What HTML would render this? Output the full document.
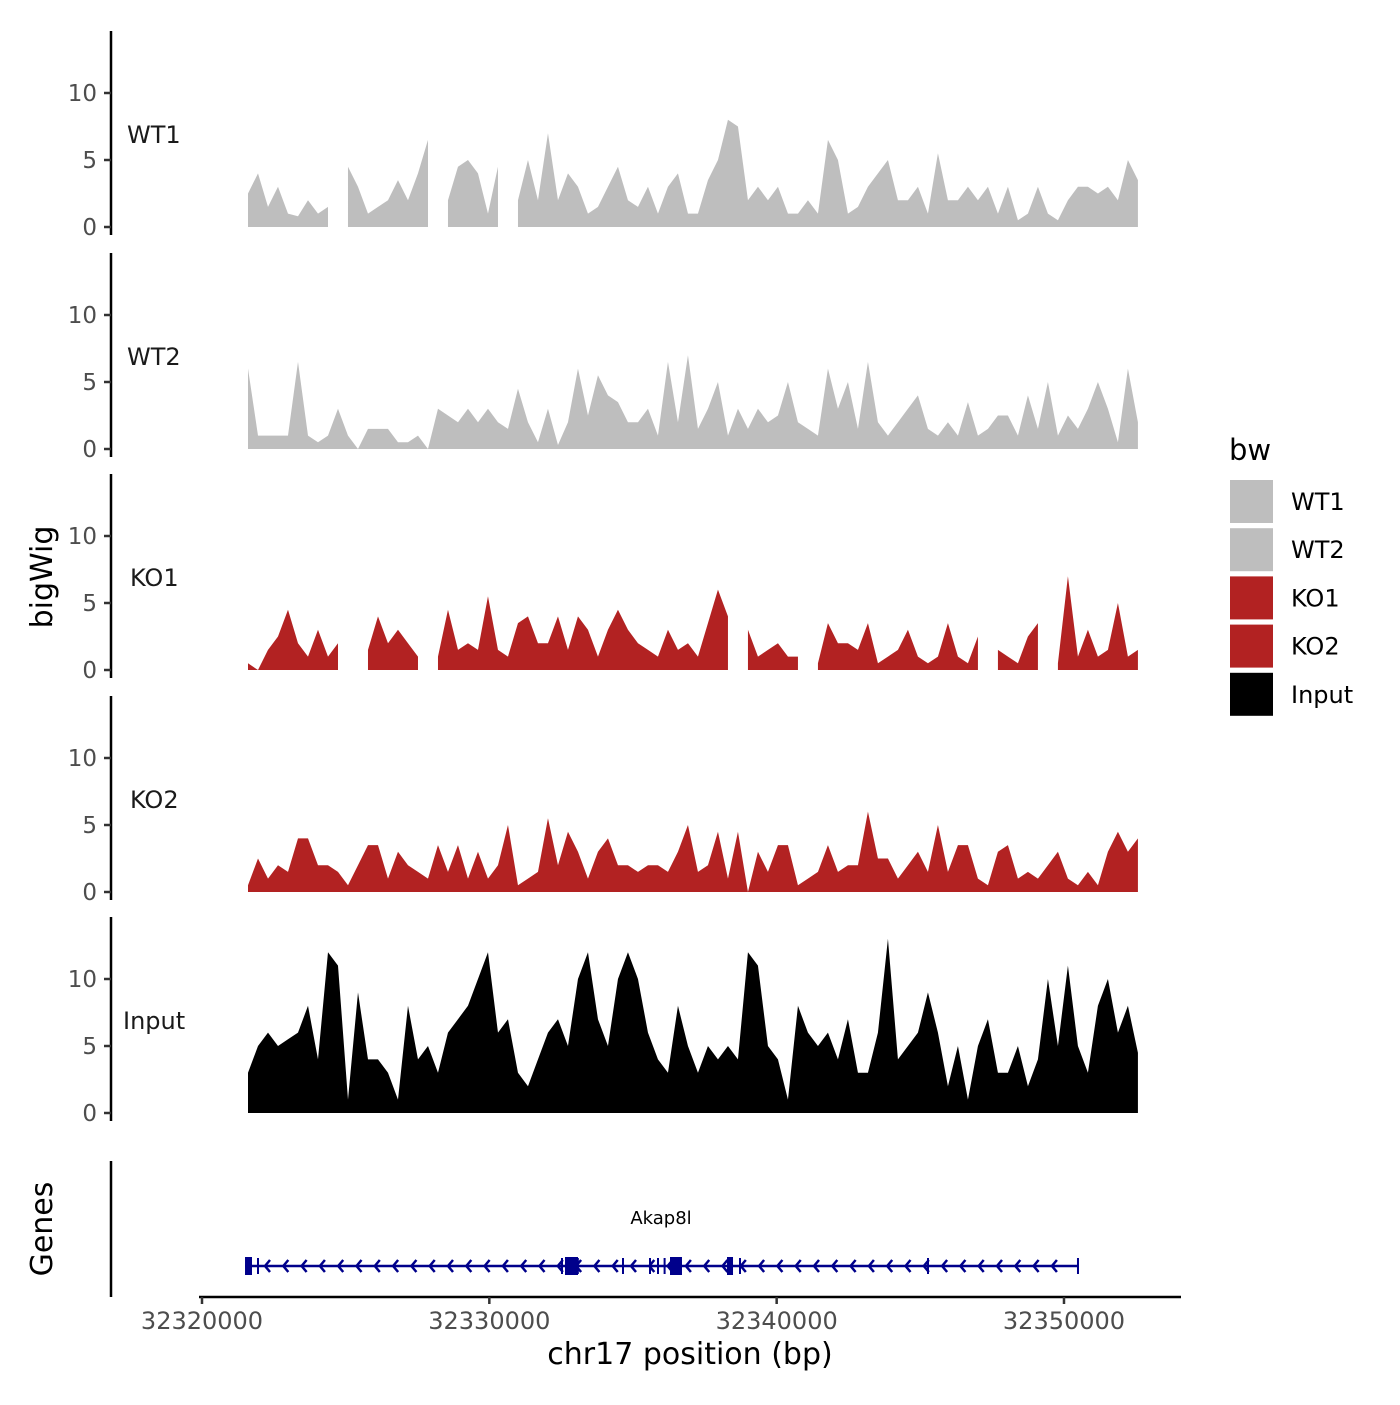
<!DOCTYPE html>
<html><head><meta charset="utf-8"><style>
html,body{margin:0;padding:0;background:#fff;}
svg text{font-family:"DejaVu Sans","Liberation Sans",sans-serif;}
</style></head><body>
<svg id="chart" width="1400" height="1400" viewBox="0 0 1400 1400" xmlns="http://www.w3.org/2000/svg"></svg>
<script>
// ---- data ----
const tracks = ["WT1","WT2","KO1","KO2","Input"];
const trackColors = ["#bebebe","#bebebe","#b22222","#b22222","#000000"];
const binStart = 32321601;
const binStep = 348;
const wt1 = [2.5,4,1.5,3,1,0.8,2,1,1.5,null,4.5,3,1,1.5,2,3.5,2,4,6.5,null,2,4.5,5,4,1,4.5,null,2,5,2,7,2,4,3,1,1.5,3,4.5,2,1.5,3,1,3,4,1,1,3.5,5,8,7.5,2,3,2,3,1,1,2,1,6.5,5,1,1.5,3,4,5,2,2,3,1,5.5,2,2,3,2,3,1,3,0.5,1,3,1,0.5,2,3,3,2.5,3,2,5,3.5];
const wt2 = [6,1,1,1,1,6.5,1,0.5,1,3,1,0,1.5,1.5,1.5,0.5,0.5,1,0,3,2.5,2,3,2,3,2,1.5,4.5,2,0.5,3,0.3,2,6,2.5,5.5,4,3.5,2,2,3,1,6.5,2,7,1.5,3,5,1,3,1.5,3,2,2.5,5,2,1.5,1,6,3,5,1.5,6.5,2,1,2,3,4,1.5,1,2,1,3.5,1,1.5,2.5,2.5,1,4,1.5,5,1,2.5,1.5,3,5,3,0.5,6,2];
const ko1 = [0.5,0,1.5,2.5,4.5,2,1,3,1,2,null,null,1.5,4,2,3,2,1,null,1,4.5,1.5,2,1.5,5.5,1.5,1,3.5,4,2,2,4,1.5,4,3,1,3,4.5,3,2,1.5,1,3,1.5,2,1,3.5,6,4,null,3,1,1.5,2,1,1,null,0.5,3.5,2,2,1.5,3.5,0.5,1,1.5,3,1,0.5,1,3.5,1,0.5,2.5,null,1.5,1,0.5,2.5,3.5,null,0.5,7,1,3,1,1.5,5,1,1.5];
const ko2 = [0.5,2.5,1,2,1.5,4,4,2,2,1.5,0.5,2,3.5,3.5,1,3,2,1.5,1,3.5,1.5,3.5,1,3,1,2,5,0.5,1,1.5,5.5,2,4.5,3,1,3,4,2,2,1.5,2,2,1.5,3,5,1.5,2,4.5,1,4.5,0,3,1.5,3.5,3.5,0.5,1,1.5,3.5,1.5,2,2,6,2.5,2.5,1,2,3,1.5,5,1.5,3.5,3.5,1,0.5,3,3.5,1,1.5,1,2,3,1,0.5,1.5,0.5,3,4.5,3,4];
const input = [3,5,6,5,5.5,6,8,4,12,11,1,9,4,4,3,1,8,4,5,3,6,7,8,10,12,6,7,3,2,4,6,7,5,10,12,7,5,10,12,10,6,4,3,8,5,3,5,4,5,4,12,11,5,4,1,8,6,5,6,4,7,3,3,6,13,4,5,6,9,6,2,5,1,5,7,3,3,5,2,4,10,5,11,5,3,8,10,6,8,4.5];
const trackValues = [wt1,wt2,ko1,ko2,input];
const yTicks = [0,5,10];
const xTicks = [32320000,32330000,32340000,32350000];
const xTickLabels = ["32320000","32330000","32340000","32350000"];
const exons = [[32321497,32321740],[32332633,32333086],[32336288,32336705],[32338272,32338481]];
const exonTicks = [32321949,32332529,32332800,32333080,32334652,32335592,32335870,32336100,32338724,32345267,32350487];
const geneStart = 32321497, geneEnd = 32350487;
const geneName = "Akap8l";

// ---- scales ----
const xScale = bp => 202 + (bp - 32320000) * 0.028733;
const zeroY = [227,449,670,892,1113];
const yScale = (t, v) => zeroY[t] - v * 13.4;

const svg = document.getElementById('chart');
const NS = 'http://www.w3.org/2000/svg';
function mk(tag, attrs, parent){const e=document.createElementNS(NS,tag);for(const k in attrs)e.setAttribute(k,attrs[k]);(parent||svg).appendChild(e);return e;}

tracks.forEach((name,t)=>{
  const g = mk('g',{});
  
  
  const ax = mk('line',{x1:111,x2:111,y1:zeroY[t]-196,y2:zeroY[t]+8,stroke:'#000','stroke-width':2.5},g);
  
  
  yTicks.forEach(v=>{
    const y = yScale(t,v);
    const tk = mk('line',{x1:104,x2:111,y1:y,y2:y,stroke:'#333','stroke-width':2.5},g);
    
    
    const tl = mk('text',{x:97,y:y+8,'text-anchor':'end','font-size':23,fill:'#4d4d4d'},g);
    tl.textContent = v;
    
    
  });
  const lab = mk('text',{x:name==='Input'?123:(name.startsWith('KO')?130:127),y:zeroY[t]-84,'font-size':24,fill:'#1a1a1a'},g);
  lab.textContent = name;
  
  
  const vals = trackValues[t];
  let seg = [];
  const flush = ()=>{
    if(seg.length){
      let d = 'M'+seg[0][0]+','+zeroY[t];
      seg.forEach(p=>{d+=' L'+p[0]+','+p[1];});
      d += ' L'+seg[seg.length-1][0]+','+zeroY[t]+' Z';
      const p = mk('path',{d:d,fill:trackColors[t]},g);
      
      
    }
    seg=[];
  };
  vals.forEach((v,i)=>{
    if(v===null){flush();return;}
    seg.push([xScale(binStart+i*binStep), yScale(t,v)]);
  });
  flush();
});

const yt = mk('text',{x:0,y:0,transform:'translate(52,577) rotate(-90)','text-anchor':'middle','font-size':30,fill:'#000'});
yt.textContent='bigWig';



const gt = mk('text',{x:0,y:0,transform:'translate(52,1229) rotate(-90)','text-anchor':'middle','font-size':30,fill:'#000'});
gt.textContent='Genes';


const gax = mk('line',{x1:111,x2:111,y1:1161,y2:1297,stroke:'#000','stroke-width':2.5});


const gg = mk('g',{});


const gy = 1266, navy='#00008b';
mk('line',{x1:xScale(geneStart),x2:xScale(geneEnd),y1:gy,y2:gy,stroke:navy,'stroke-width':2.5},gg);
for(let x=xScale(geneStart)+20; x<xScale(geneEnd)-8; x+=18.3){
  mk('polyline',{points:(x+5)+','+(gy-6)+' '+x+','+gy+' '+(x+5)+','+(gy+6),fill:'none',stroke:navy,'stroke-width':2.5},gg);
}
exons.forEach(e=>{
  const x1=xScale(e[0]), x2=xScale(e[1]);
  mk('rect',{x:x1,y:gy-9,width:Math.max(4,x2-x1),height:18,fill:navy},gg);
});
exonTicks.forEach(b=>{
  const x=xScale(b); mk('line',{x1:x,x2:x,y1:gy-8,y2:gy+8,stroke:navy,'stroke-width':2},gg);
});
const gn = mk('text',{x:661,y:1224,'text-anchor':'middle','font-size':18,fill:'#000'},gg);
gn.textContent=geneName;



const xax = mk('line',{x1:199,x2:1181,y1:1297,y2:1297,stroke:'#000','stroke-width':2.5});


xTicks.forEach((b,i)=>{
  const x=xScale(b);
  const tk=mk('line',{x1:x,x2:x,y1:1297,y2:1304,stroke:'#333','stroke-width':2.5});
  
  
  const tl=mk('text',{x:x,y:1329,'text-anchor':'middle','font-size':24,fill:'#4d4d4d'});
  tl.textContent=xTickLabels[i];
  
  
});
const xt=mk('text',{x:690,y:1364,'text-anchor':'middle','font-size':30,fill:'#000'});
xt.textContent='chr17 position (bp)';



const lg = mk('g',{});


const lt = mk('text',{x:1229,y:460,'font-size':29,fill:'#000'},lg);
lt.textContent='bw';


tracks.forEach((n,i)=>{
  const y=480+i*48.2;
  const r=mk('rect',{x:1230,y:y,width:43,height:43,fill:trackColors[i]},lg);
  
  
  const t=mk('text',{x:1291,y:y+30,'font-size':24,fill:'#000'},lg);
  t.textContent=n;
  
  
});
</script>
</body></html>
